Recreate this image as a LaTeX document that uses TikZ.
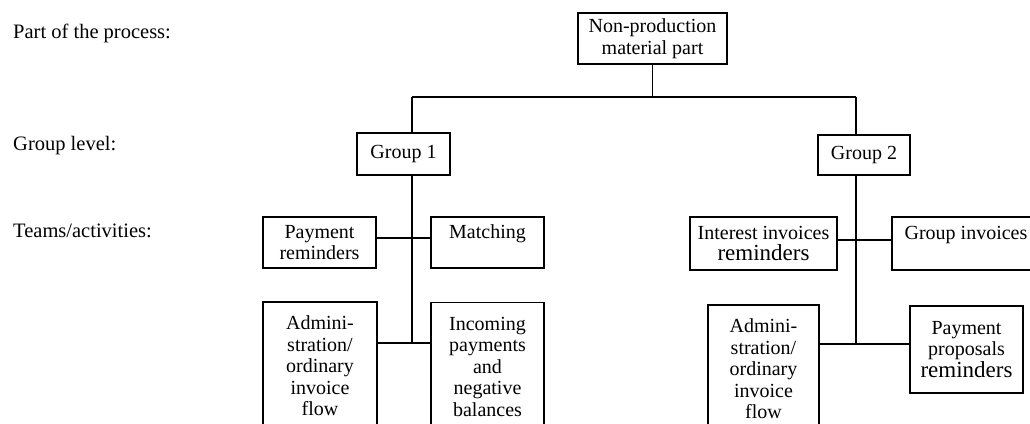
\documentclass[tikz,border=0pt]{standalone}
\usepackage{fontspec}
\setmainfont{Liberation Serif}
\begin{document}
\begin{tikzpicture}[x=1pt,y=-1pt,
  box/.style={draw, line width=1.7pt, align=center, inner sep=0pt,
              font=\fontsize{20}{21.5}\selectfont},
  link/.style={line width=1.7pt},
  lbl/.style={anchor=base west, inner sep=0pt, font=\fontsize{20.5}{21}\selectfont}]
\useasboundingbox (0,0) rectangle (1030,423);
\clip (0,0) rectangle (1030,423);
\newcommand\bigword[1]{{\fontsize{23}{21.5}\selectfont #1}}

% level labels
\node[lbl] (lpart)  at (13,38)  {Part of the process:};
\node[lbl] (lgroup) at (13,150) {Group level:};
\node[lbl] (lteams) at (13,237) {Teams/activities:};

% top of the hierarchy
\node[box, minimum width=149pt, minimum height=51pt] (top) at (652.5,38.5)
  {Non-production\\material part};

% groups
\node[box, minimum width=93pt, minimum height=42pt] (g1) at (403.5,154) {Group 1};
\node[box, minimum width=92pt, minimum height=40pt] (g2) at (864,155) {Group 2};

% teams of group 1
\node[box, minimum width=113pt, minimum height=51pt] (pr) at (319.5,242.5)
  {Payment\\reminders};
\node[box, minimum width=113pt, minimum height=51pt] (mt) at (487.5,242.5)
  {Matching\\\mbox{}};
\node[box, minimum width=114pt, minimum height=128pt] (a1) at (320,366)
  {Admini-\\stration/\\ordinary\\invoice\\flow};
\node[box, minimum width=113pt, minimum height=128pt] (ip) at (487.5,366.5)
  {Incoming\\payments\\and\\negative\\balances};

% teams of group 2
\node[box, minimum width=147pt, minimum height=53pt] (ir) at (763.5,243.5)
  {Interest invoices\\\bigword{reminders}};
\node[box, minimum width=148pt, minimum height=53pt] (gi) at (966,243.5)
  {Group invoices\\\mbox{}};
\node[box, minimum width=111pt, minimum height=128pt] (a2) at (763.5,369)
  {Admini-\\stration/\\ordinary\\invoice\\flow};
\node[box, minimum width=113pt, minimum height=87pt] (pp) at (966.5,349.5)
  {Payment\\proposals\\\bigword{reminders}};

% junction points
\coordinate (b1) at (412,97);
\coordinate (b2) at (856,97);
\coordinate (e1) at (412,343);
\coordinate (e2) at (856,344);
\coordinate (h1) at (0,238);
\coordinate (h2) at (0,240);

% connectors
\draw[link] (top.south) -- (top.south |- b1);
\draw[link] (b1) -- (b2);
\draw[link] (b1) -- (b1 |- g1.north);
\draw[link] (b2) -- (b2 |- g2.north);
\draw[link] (b1 |- g1.south) -- (e1);
\draw[link] (b2 |- g2.south) -- (e2);
\draw[link] (pr.east |- h1) -- (mt.west |- h1);
\draw[link] (a1.east |- e1) -- (ip.west |- e1);
\draw[link] (ir.east |- h2) -- (gi.west |- h2);
\draw[link] (a2.east |- e2) -- (pp.west |- e2);
\end{tikzpicture}
\end{document}
